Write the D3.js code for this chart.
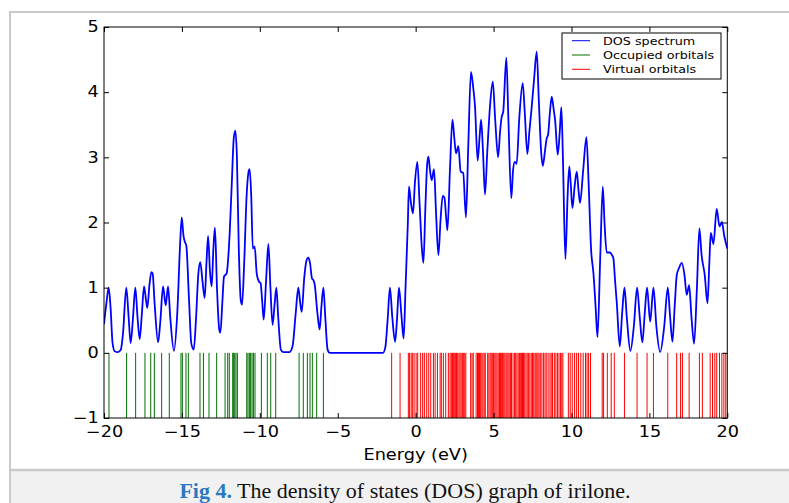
<!DOCTYPE html>
<html>
<head>
<meta charset="utf-8">
<script src="https://cdn.jsdelivr.net/npm/d3@7"></script>
<style>
  html, body { margin: 0; padding: 0; background: #fff; }
  svg { display: block; }
</style>
</head>
<body>
<div id="chart"></div>
<script>

// DOS spectrum: energy (eV) and density
const dosEnergy = [
  -20.00, -19.85, -19.70, -19.58, -19.45, -19.30, -19.10, -18.92, -18.78, -18.57,
  -18.42, -18.29, -18.15, -17.99, -17.85, -17.71, -17.57, -17.43, -17.30, -17.22,
  -17.08, -16.96, -16.88, -16.75, -16.53, -16.38, -16.21, -16.04, -15.89, -15.75,
  -15.51, -15.30, -15.10, -15.01, -14.90, -14.82, -14.72, -14.55, -14.40, -14.24,
  -14.10, -13.95, -13.82, -13.68, -13.54, -13.42, -13.32, -13.20, -13.09, -12.98,
  -12.88, -12.75, -12.60, -12.53, -12.40, -12.30, -12.13, -11.93, -11.80, -11.67,
  -11.57, -11.47, -11.35, -11.22, -11.14, -11.00, -10.85, -10.70, -10.65, -10.55,
  -10.45, -10.33, -10.20, -10.05, -9.95, -9.85, -9.75, -9.60, -9.45, -9.32,
  -9.18, -9.05, -8.94, -8.82, -8.65, -8.50, -8.10, -7.90, -7.70, -7.53,
  -7.40, -7.31, -7.15, -7.00, -6.89, -6.78, -6.65, -6.57, -6.48, -6.30,
  -6.16, -6.05, -5.92, -5.80, -5.65, -5.50, -2.10, -1.95, -1.80, -1.65,
  -1.50, -1.32, -1.20, -1.07, -0.92, -0.77, -0.65, -0.50, -0.43, -0.30,
  -0.17, -0.05, 0.11, 0.25, 0.40, 0.50, 0.62, 0.74, 0.82, 0.92,
  1.03, 1.18, 1.30, 1.46, 1.60, 1.74, 1.85, 1.95, 2.04, 2.20,
  2.36, 2.48, 2.59, 2.74, 2.89, 3.05, 3.23, 3.38, 3.55, 3.68,
  3.81, 3.98, 4.10, 4.20, 4.32, 4.45, 4.60, 4.77, 4.95, 5.10,
  5.29, 5.42, 5.52, 5.62, 5.82, 5.95, 6.14, 6.25, 6.36, 6.48,
  6.65, 6.87, 7.00, 7.17, 7.30, 7.42, 7.60, 7.77, 7.90, 8.05,
  8.16, 8.30, 8.41, 8.50, 8.62, 8.73, 8.85, 8.95, 9.12, 9.25,
  9.35, 9.45, 9.61, 9.75, 9.86, 9.95, 10.06, 10.20, 10.34, 10.45,
  10.55, 10.75, 10.96, 11.10, 11.26, 11.41, 11.55, 11.67, 11.85, 12.01,
  12.12, 12.26, 12.48, 12.60, 12.69, 12.80, 12.91, 13.10, 13.25, 13.40,
  13.55, 13.78, 14.00, 14.21, 14.38, 14.55, 14.70, 14.85, 15.05, 15.26,
  15.45, 15.69, 15.95, 16.18, 16.33, 16.48, 16.62, 16.76, 16.90, 17.08,
  17.25, 17.40, 17.55, 17.70, 17.87, 18.05, 18.21, 18.35, 18.55, 18.73,
  18.85, 18.94, 19.11, 19.32, 19.50, 19.65, 19.80, 20.00
];

const dosValue = [
  0.44, 0.75, 1.00, 0.70, 0.15, 0.02, 0.01, 0.05, 0.30, 1.00,
  0.55, 0.15, 0.50, 1.00, 0.55, 0.21, 0.60, 1.02, 0.80, 0.69,
  1.05, 1.24, 1.22, 0.75, 0.16, 0.50, 1.02, 0.73, 1.02, 0.55,
  0.03, 0.60, 1.75, 2.08, 1.80, 1.71, 1.65, 0.85, 0.15, 0.05,
  0.50, 1.20, 1.39, 1.10, 0.84, 1.40, 1.79, 1.25, 1.02, 1.60,
  1.92, 1.00, 0.35, 0.31, 0.80, 1.17, 1.22, 1.86, 2.60, 3.30,
  3.41, 3.00, 1.60, 0.80, 0.74, 1.40, 2.40, 2.80, 2.82, 2.40,
  1.60, 1.63, 1.22, 1.09, 1.07, 0.80, 0.51, 1.10, 1.67, 1.00,
  0.43, 0.75, 1.00, 0.55, 0.05, 0.01, 0.01, 0.10, 0.60, 1.00,
  0.75, 0.63, 1.15, 1.42, 1.46, 1.38, 1.14, 1.12, 1.05, 0.60,
  0.36, 0.70, 1.00, 0.55, 0.05, 0.00, 0.00, 0.08, 0.50, 1.00,
  0.55, 0.17, 0.50, 1.00, 0.60, 0.22, 1.00, 2.00, 2.55, 2.30,
  2.14, 2.60, 2.93, 2.30, 1.60, 1.38, 2.20, 2.90, 3.01, 2.80,
  2.65, 2.82, 2.20, 1.50, 2.05, 2.41, 2.38, 2.10, 1.88, 2.80,
  3.58, 3.30, 3.06, 3.17, 2.78, 2.76, 2.08, 3.20, 4.31, 4.10,
  3.78, 2.95, 3.30, 3.58, 3.10, 2.43, 3.10, 3.78, 4.16, 3.60,
  3.00, 3.40, 3.62, 3.70, 4.53, 3.60, 2.37, 2.80, 2.93, 2.90,
  3.60, 4.14, 3.70, 3.05, 3.40, 3.70, 4.20, 4.62, 3.90, 3.10,
  2.87, 3.10, 3.29, 3.35, 3.70, 3.93, 3.75, 3.57, 3.04, 3.40,
  3.77, 3.00, 1.44, 2.40, 2.86, 2.60, 2.22, 2.55, 2.78, 2.50,
  2.30, 2.80, 3.31, 2.60, 1.58, 1.22, 0.70, 0.24, 1.50, 2.55,
  2.00, 1.54, 1.54, 1.50, 1.45, 1.10, 0.76, 0.10, 0.60, 1.00,
  0.55, 0.03, 0.40, 1.00, 0.55, 0.16, 0.60, 1.00, 0.48, 1.00,
  0.40, 0.01, 0.40, 1.00, 0.55, 0.17, 0.70, 1.20, 1.30, 1.38,
  1.20, 0.89, 1.04, 0.55, 0.14, 1.00, 1.91, 1.50, 1.20, 0.76,
  1.40, 1.84, 1.67, 2.21, 1.94, 2.01, 1.80, 1.60
];

// orbital energies (eV)
const occupied = [
  -19.68, -18.55, -17.97, -17.37, -17.00, -16.77, -16.30, -15.81, -15.06, -14.97,
  -14.74, -14.59, -13.84, -13.62, -13.26, -12.77, -12.23, -12.06, -11.96, -11.74,
  -11.68, -11.61, -11.53, -11.44, -10.84, -10.76, -10.67, -10.59, -10.50, -10.41,
  -10.31, -9.90, -9.52, -9.30, -8.98, -7.48, -7.21, -6.95, -6.78, -6.63,
  -6.35, -5.92
];

const virtual = [
  -1.54, -1.00, -0.47, -0.40, -0.29, -0.21, -0.10, 0.03, 0.13, 0.32,
  0.45, 0.56, 0.71, 0.84, 0.97, 1.14, 1.25, 1.40, 1.57, 1.65,
  1.78, 1.93, 2.10, 2.21, 2.29, 2.36, 2.42, 2.48, 2.55, 2.62,
  2.70, 2.78, 2.85, 2.92, 3.00, 3.08, 3.15, 3.22, 3.53, 3.62,
  3.70, 3.88, 3.97, 4.03, 4.10, 4.17, 4.25, 4.32, 4.40, 4.47,
  4.62, 4.70, 4.78, 4.85, 4.92, 5.00, 5.08, 5.15, 5.22, 5.30,
  5.38, 5.45, 5.52, 5.58, 5.65, 5.72, 5.80, 5.86, 5.93, 6.00,
  6.08, 6.15, 6.25, 6.35, 6.42, 6.50, 6.58, 6.66, 6.74, 6.80,
  6.86, 6.92, 7.00, 7.08, 7.16, 7.25, 7.33, 7.42, 7.50, 7.58,
  7.66, 7.72, 7.78, 7.85, 7.92, 8.00, 8.10, 8.20, 8.30, 8.38,
  8.50, 8.62, 8.70, 8.78, 8.90, 9.00, 9.10, 9.20, 9.30, 9.38,
  9.45, 9.80, 9.92, 10.05, 10.20, 10.33, 10.45, 10.60, 10.75, 10.90,
  11.00, 11.10, 11.22, 11.97, 12.06, 12.30, 12.55, 12.75, 13.40, 14.21,
  14.85, 15.26, 16.18, 16.75, 17.00, 17.12, 17.55, 18.21, 18.40, 18.90,
  19.05, 19.20, 19.32, 19.50, 19.65, 19.78, 19.90
];

const xTicks = [-20, -15, -10, -5, 0, 5, 10, 15, 20];
const yTicks = [-1, 0, 1, 2, 3, 4, 5];
const legendLabels = ["DOS spectrum", "Occupied orbitals", "Virtual orbitals"];
const legendColors = ["#0000ff", "#007000", "#ff0000"];


const W = 789, H = 503;
const margin = {top: 27, right: 61.7, bottom: 85, left: 104};
const stretch = 1.18;   // the figure is widened a bit, text included

var x = d3.scaleLinear()
  .domain([-20, 20])
  .range([margin.left, W - margin.right]);

var y = d3.scaleLinear()
  .domain([-1, 5])
  .range([H - margin.bottom, margin.top]);

const svg = d3.select("#chart").append("svg")
  .attr("width", W)
  .attr("height", H)
  .style("font-family", "'DejaVu Sans', sans-serif");

// page frame + caption strip
svg.append("rect")
  .attr("x", 10).attr("y", 12)
  .attr("width", W).attr("height", H)
  .attr("fill", "#fff")
  .attr("stroke", "#c9c9c9")
  .attr("stroke-width", 2);

svg.append("rect")
  .attr("x", 11).attr("y", 470)
  .attr("width", W).attr("height", H - 470)
  .attr("fill", "#f1f1f1");

svg.append("line")
  .attr("x1", 10).attr("x2", W)
  .attr("y1", 470).attr("y2", 470)
  .attr("stroke", "#c9c9c9")
  .attr("stroke-width", 2.5);

var caption = svg.append("text")
  .attr("x", 405)
  .attr("y", 498)
  .attr("text-anchor", "middle")
  .style("font-family", "'Liberation Serif', 'Times New Roman', serif")
  .style("font-size", "22px");

caption.append("tspan")
  .attr("fill", "#2c78bf")
  .attr("font-weight", "bold")
  .text("Fig 4.");
caption.append("tspan")
  .attr("fill", "#111")
  .text(" The density of states (DOS) graph of irilone.");

// plot
svg.append("clipPath").attr("id", "plotclip")
  .append("rect")
  .attr("x", x(-20)).attr("y", y(5))
  .attr("width", x(20) - x(-20)).attr("height", y(-1) - y(5));

const plot = svg.append("g").attr("clip-path", "url(#plotclip)");

plot.selectAll(".occ")
  .data(occupied)
  .enter().append("line")
  .attr("class", "occ")
  .attr("x1", d => x(d)).attr("x2", d => x(d))
  .attr("y1", y(0)).attr("y2", y(-1))
  .attr("stroke", legendColors[1])
  .attr("stroke-width", 1);

plot.selectAll(".virt")
  .data(virtual)
  .enter().append("line")
  .attr("class", "virt")
  .attr("x1", d => x(d)).attr("x2", d => x(d))
  .attr("y1", y(0)).attr("y2", y(-1))
  .attr("stroke", legendColors[2])
  .attr("stroke-width", 1);

var dos = dosEnergy.map(function(e, i) { return [e, dosValue[i]]; });

var line = d3.line()
  .x(d => x(d[0]))
  .y(d => y(d[1]))
  .curve(d3.curveMonotoneX);

plot.append("path")
  .datum(dos)
  .attr("d", line)
  .attr("fill", "none")
  .attr("stroke", legendColors[0])
  .attr("stroke-width", 1.8)
  .attr("stroke-linejoin", "round");

// axes, matplotlib classic: ticks inside on all four sides
var xAxis = d3.axisBottom(x).tickValues(xTicks).tickSize(-5).tickPadding(8)
  .tickFormat(d3.format("d"));
var yAxis = d3.axisLeft(y).tickValues(yTicks).tickSize(-5)
  .tickFormat(d3.format("d"));

svg.append("g")
  .attr("transform", "translate(0," + y(-1) + ")")
  .call(xAxis);

var gy = svg.append("g")
  .attr("transform", "translate(" + x(-20) + ",0)")
  .call(yAxis);

svg.append("g")
  .attr("transform", "translate(0," + y(5) + ")")
  .call(d3.axisTop(x).tickValues(xTicks).tickSize(-5).tickFormat(""));

svg.append("g")
  .attr("transform", "translate(" + x(20) + ",0)")
  .call(d3.axisRight(y).tickValues(yTicks).tickSize(-5).tickFormat(""));

svg.selectAll(".domain").remove();
svg.selectAll(".tick line").attr("stroke", "#000");
svg.selectAll(".tick text")
  .attr("fill", "#000")
  .style("font-family", "'DejaVu Sans', sans-serif")
  .style("font-size", "15px")
  .attr("transform", "scale(" + stretch + ",1)");
gy.selectAll(".tick text").attr("x", -4.4);

svg.append("rect")
  .attr("x", x(-20)).attr("y", y(5))
  .attr("width", x(20) - x(-20)).attr("height", y(-1) - y(5))
  .attr("fill", "none")
  .attr("stroke", "#000")
  .attr("stroke-width", 1);

svg.append("text")
  .attr("transform", "translate(" + ((x(-20) + x(20)) / 2) + ",460) scale(" + stretch + ",1)")
  .attr("text-anchor", "middle")
  .style("font-size", "15px")
  .text("Energy (eV)");

// legend
const legend = svg.append("g");

legend.append("rect")
  .attr("x", 562).attr("y", 33)
  .attr("width", 159).attr("height", 46)
  .attr("fill", "#fff")
  .attr("stroke", "#000")
  .attr("stroke-width", 1);

legend.selectAll(".key")
  .data(legendLabels)
  .enter().append("line")
  .attr("class", "key")
  .attr("x1", 572).attr("x2", 590)
  .attr("y1", (d, i) => 40.7 + i * 14.3)
  .attr("y2", (d, i) => 40.7 + i * 14.3)
  .attr("stroke", (d, i) => legendColors[i])
  .attr("stroke-width", 1);

legend.selectAll(".label")
  .data(legendLabels)
  .enter().append("text")
  .attr("class", "label")
  .attr("transform", (d, i) => "translate(603," + (44.6 + i * 14.3) + ") scale(" + stretch + ",1)")
  .style("font-size", "10.8px")
  .text(d => d);

</script>
</body>
</html>
